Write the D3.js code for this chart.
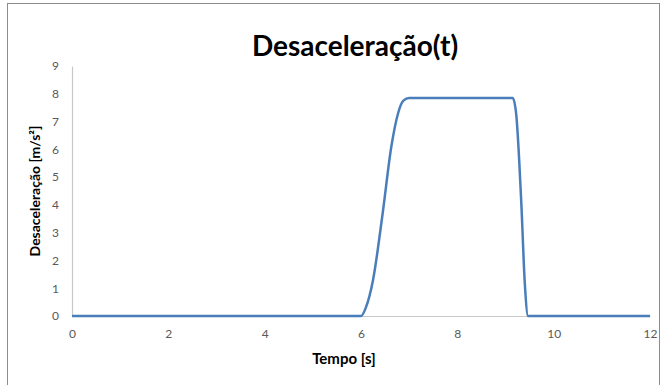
<!DOCTYPE html>
<html>
<head>
<meta charset="utf-8">
<script src="https://cdn.jsdelivr.net/npm/d3@7"></script>
<style>
  body { margin: 0; background: #fff; }
  text { font-family: Lato, "Open Sans", sans-serif; }
</style>
</head>
<body>
<div id="chart"></div>
<script>
// tempo [s]
var tempo = [0, 2, 4, 6, 6.1, 6.25, 6.45, 6.63, 6.77, 6.88, 7.0, 8, 9.15, 9.22, 9.33, 9.4, 9.47, 10, 12];
// desaceleração [m/s²]
var desac = [0, 0, 0, 0, 0.3, 1.3, 3.7, 6.1, 7.3, 7.75, 7.85, 7.85, 7.85, 7.3, 4.0, 1.2, 0, 0, 0];
var xTicks = [0, 2, 4, 6, 8, 10, 12];
var yTicks = [0, 1, 2, 3, 4, 5, 6, 7, 8, 9];

var width = 662, height = 385;
var mLeft = 72, mRight = 650, mTop = 66, mBottom = 316;

var svg = d3.select("#chart").append("svg").attr("width", width).attr("height", height);

// moldura do gráfico
svg.append("rect")
  .attr("x", 7.5).attr("y", 3.5)
  .attr("width", 652).attr("height", 400)
  .attr("fill", "none").attr("stroke", "#8c8c8c").attr("stroke-width", 1);

var x = d3.scaleLinear().domain([0, 12]).range([mLeft, mRight]);
var y = d3.scaleLinear().domain([0, 9]).range([mBottom, mTop]);

// eixos
var gx = svg.append("g")
  .attr("transform", "translate(0," + mBottom + ")")
  .call(d3.axisBottom(x).tickValues(xTicks).tickSize(0).tickPadding(13));
var gy = svg.append("g")
  .attr("transform", "translate(" + mLeft + ",0)")
  .call(d3.axisLeft(y).tickValues(yTicks).tickSize(0).tickPadding(13));

[gx, gy].forEach(function(g) {
  g.select(".domain").attr("stroke", "#c8c8c8").attr("stroke-width", 1.2);
  g.selectAll("text").attr("fill", "#595959").style("font-size", "12px");
});

// linha
var line = d3.line()
  .x(function(d, i) { return x(tempo[i]); })
  .y(function(d) { return y(d); })
  .curve(d3.curveMonotoneX);

svg.append("path")
  .datum(desac)
  .attr("d", line)
  .attr("fill", "none")
  .attr("stroke", "#4a7ebb")
  .attr("stroke-width", 2.5);

// títulos
svg.append("text")
  .attr("x", 355).attr("y", 56)
  .attr("text-anchor", "middle")
  .style("font-size", "28px").style("font-weight", "bold")
  .text("Desaceleração(t)");

svg.append("text")
  .attr("x", 344).attr("y", 364)
  .attr("text-anchor", "middle")
  .style("font-size", "15px").style("font-weight", "bold")
  .text("Tempo [s]");

svg.append("text")
  .attr("transform", "translate(40,191) rotate(-90)")
  .attr("text-anchor", "middle")
  .style("font-size", "14px").style("font-weight", "bold")
  .text("Desaceleração [m/s²]");
</script>
</body>
</html>
